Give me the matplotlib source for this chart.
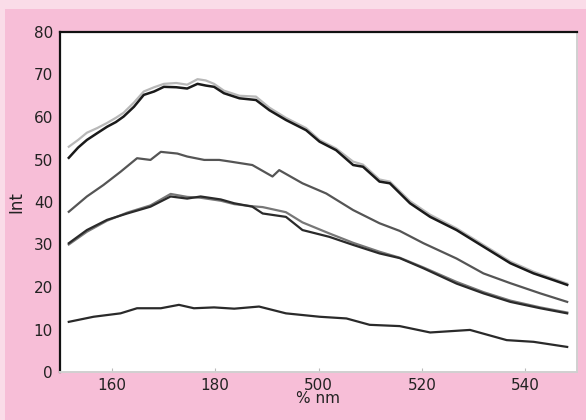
import matplotlib
matplotlib.use("Agg")
import matplotlib.pyplot as plt
from matplotlib.patches import Rectangle

# ---- data ----
x_ticks = [160, 180, 200, 220, 240]
x_tick_labels = ["160", "180", "500", "520", "540"]
y_ticks = [0, 10, 20, 30, 40, 50, 60, 70, 80]

a_x = [151.7, 153.5, 155.2, 157.2, 159.1, 160.8, 162.3, 164.3, 166.2, 168.2, 170.1, 172.5, 174.6, 176.6, 178.2, 179.8,
       181.7, 184.7, 187.9, 190.5, 193.7, 197.6, 200.2, 203.4, 206.7, 208.6, 211.8, 213.8, 217.7, 221.6, 226.7,
       231.9, 237.1, 241.6, 245.5, 248.1]
a_y = [50.4, 52.8, 54.6, 56.2, 57.7, 58.8, 60.1, 62.4, 65.2, 66.0, 67.1, 67.0, 66.7, 67.8, 67.4, 67.1,
       65.6, 64.4, 64.0, 61.6, 59.3, 56.9, 54.2, 52.2, 48.7, 48.3, 44.8, 44.4, 39.7, 36.5, 33.4,
       29.5, 25.6, 23.2, 21.6, 20.5]
a2_y = [53.0, 54.6, 56.3, 57.4, 58.6, 59.8, 61.0, 63.4, 66.0, 67.0, 67.8, 68.0, 67.6, 68.9, 68.6, 67.8,
        66.2, 65.0, 64.8, 62.2, 59.8, 57.4, 54.6, 52.6, 49.5, 48.8, 45.3, 44.8, 40.2, 37.0, 33.8,
        29.9, 26.0, 23.6, 21.9, 20.8]

b_x = [151.7, 155.2, 158.4, 161.7, 164.9, 167.5, 169.5, 172.7, 174.6, 177.9, 180.8, 183.0, 187.2, 191.1, 192.4,
       196.9, 201.5, 206.7, 211.8, 215.7, 220.3, 226.7, 231.9, 237.1, 242.9, 248.1]
b_y = [37.7, 41.3, 44.0, 47.1, 50.3, 49.9, 51.8, 51.4, 50.7, 49.9, 49.9, 49.5, 48.7, 46.0, 47.5,
       44.4, 42.0, 38.1, 35.0, 33.2, 30.3, 26.7, 23.2, 20.9, 18.5, 16.5]

c_x = [151.7, 155.2, 159.1, 163.0, 167.5, 171.4, 174.6, 177.2, 181.1, 183.7, 187.2, 189.2, 193.7, 196.9, 202.1,
       206.7, 211.8, 215.7, 220.3, 226.7, 231.9, 237.1, 242.9, 248.1]
c_y = [30.3, 33.4, 35.8, 37.3, 38.9, 41.3, 40.8, 41.3, 40.6, 39.7, 38.9, 37.3, 36.5, 33.4, 31.8,
       29.9, 27.9, 26.8, 24.4, 20.8, 18.5, 16.5, 15.0, 13.8]
c2_y = [30.0, 33.0, 35.6, 37.5, 39.2, 41.9, 41.2, 41.0, 40.3, 39.5, 39.0, 38.8, 37.6, 35.2, 32.6,
        30.4, 28.3, 26.9, 24.6, 21.2, 18.8, 16.8, 15.2, 14.0]

d_x = [151.7, 156.5, 161.7, 164.9, 169.5, 173.0, 175.9, 179.8, 183.7, 188.5, 193.7, 200.2, 205.4, 209.9, 215.7,
       221.6, 229.3, 236.4, 241.6, 248.1]
d_y = [11.8, 13.0, 13.8, 15.0, 15.0, 15.8, 15.0, 15.2, 14.9, 15.4, 13.8, 13.0, 12.6, 11.1, 10.8,
       9.3, 9.9, 7.5, 7.1, 5.9]

# ---- figure ----
fig = plt.figure(figsize=(5.86, 4.2), dpi=100)
fig.patch.set_facecolor("#fadce8")
fig.add_artist(Rectangle((5 / 586, 0), 1, 1 - 9 / 420, transform=fig.transFigure,
                         facecolor="#f7bed7", edgecolor="none", zorder=0))

ax = fig.add_axes([60 / 586, 1 - 372 / 420, (577 - 60) / 586, (372 - 32) / 420])
ax.set_facecolor("white")

ax.plot(a_x, a2_y, color="#b8b8b8", lw=1.6, zorder=2)
ax.plot(a_x, a_y, color="#1a1a1a", lw=1.8, zorder=3)
ax.plot(b_x, b_y, color="#555555", lw=1.6, zorder=3)
ax.plot(c_x, c2_y, color="#777777", lw=1.6, zorder=2)
ax.plot(c_x, c_y, color="#2a2a2a", lw=1.6, zorder=3)
ax.plot(d_x, d_y, color="#2a2a2a", lw=1.6, zorder=3)

ax.set_xlim(150, 250)
ax.set_ylim(0, 80)
ax.set_xticks(x_ticks)
ax.set_xticklabels(x_tick_labels)
ax.set_yticks(y_ticks)

for s in ["top", "left"]:
    ax.spines[s].set_color("#111111")
    ax.spines[s].set_linewidth(1.6)
for s in ["bottom", "right"]:
    ax.spines[s].set_color("#d0d0d0")
    ax.spines[s].set_linewidth(1.4)

ax.tick_params(axis="both", direction="in", length=3, color="#bbbbbb",
               labelsize=11, labelcolor="#222222", pad=4)
ax.tick_params(axis="y", length=0, pad=5)

ax.set_xlabel("% nm", fontsize=11, color="#222222", labelpad=-1)
ax.set_ylabel("Int", fontsize=12, color="#222222", labelpad=6)

fig.savefig("out.png", dpi=100, facecolor=fig.get_facecolor())
